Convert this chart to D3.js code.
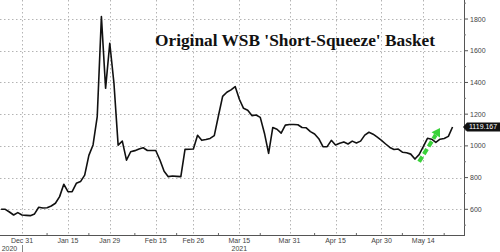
<!DOCTYPE html>
<html>
<head>
<meta charset="utf-8">
<script src="https://cdn.jsdelivr.net/npm/d3@7"></script>
<style>
  body { margin: 0; background: #fff; }
  svg { display: block; }
</style>
</head>
<body>
<svg id="chart" width="500" height="252"></svg>
<script>
// basket level, one value per weekday starting on startDate
const startDate = "2020-12-24"
const basket = [600, 600, 583, 564, 579, 564, 562, 560, 571, 613, 608, 610, 621, 638, 680,
  758, 711, 711, 764, 775, 816, 940, 1006, 1184, 1815, 1363, 1647, 1395, 1005, 1030,
  910, 963, 970, 980, 988, 971, 971, 971, 911, 840, 806, 810, 808, 806, 978,
  979, 980, 1067, 1035, 1040, 1047, 1065, 1190, 1312, 1338, 1353, 1374, 1294, 1237, 1225,
  1191, 1195, 1180, 1080, 953, 1116, 1105, 1080, 1131, 1135, 1135, 1133, 1116, 1114, 1090,
  1075, 1045, 995, 995, 1035, 1006, 1016, 1025, 1012, 1030, 1018, 1030, 1068, 1086, 1074,
  1055, 1035, 1012, 990, 977, 980, 960, 957, 948, 917, 945, 995, 1048, 1042, 1022,
  1042, 1047, 1060, 1119.167]
const lastLabel = "1119.167"
const tickDates = ["2020-12-31", "2021-01-15", "2021-01-29", "2021-02-15", "2021-02-26",
  "2021-03-15", "2021-03-31", "2021-04-15", "2021-04-30", "2021-05-14"]
const minorDates = ["2021-01-08", "2021-01-22", "2021-02-08", "2021-02-22", "2021-03-08",
  "2021-03-22", "2021-04-08", "2021-04-22", "2021-05-07", "2021-05-21"]
const years = ["2020", "2021"]
const yearDates = ["2020-12-28", "2021-03-15"]
const yTicks = [600, 800, 1000, 1200, 1400, 1600, 1800]
const yMinor = [500, 700, 900, 1100, 1300, 1500, 1700, 1900]
const arrowFrom = ["2021-05-13", 900]
const arrowTo = ["2021-05-20", 1112]
const title = "Original WSB 'Short-Squeeze' Basket"

const parse = d3.timeParse("%Y-%m-%d")
const fmt = d3.timeFormat("%b %d")
const t0 = parse(startDate)
// weekday index counted from startDate
const wd = d => d3.timeDay.range(t0, d).filter(x => x.getDay() % 6 !== 0).length
const series = []
{
  let d = t0
  basket.forEach(v => {
    while (d.getDay() % 6 === 0) d = d3.timeDay.offset(d, 1)
    series.push({ date: d, value: v })
    d = d3.timeDay.offset(d, 1)
  })
}

const W = 500, H = 252
const plot = { left: 0, right: 464, top: 0, bottom: 235 }
const svg = d3.select('#chart')

const x = d3.scaleLinear().domain([-0.26, 110.74]).range([plot.left, plot.right])
const xd = d => x(wd(typeof d === 'string' ? parse(d) : d))
const y = d3.scaleLinear().domain([438, 1920]).range([plot.bottom, plot.top])

// grid
svg.append('g')
  .selectAll('line.h')
  .data(yTicks)
  .join('line')
  .attr('x1', plot.left).attr('x2', plot.right)
  .attr('y1', d => Math.round(y(d)) + 0.5).attr('y2', d => Math.round(y(d)) + 0.5)
  .attr('stroke', '#b4b4b4').attr('stroke-width', 1).attr('stroke-dasharray', '1.5,2.5')
svg.append('g')
  .selectAll('line.v')
  .data(tickDates)
  .join('line')
  .attr('x1', d => Math.round(xd(d)) + 0.5).attr('x2', d => Math.round(xd(d)) + 0.5)
  .attr('y1', plot.top).attr('y2', plot.bottom)
  .attr('stroke', '#b4b4b4').attr('stroke-width', 1).attr('stroke-dasharray', '1.5,2.5')

// title
svg.append('text')
  .attr('x', 155).attr('y', 46)
  .attr('font-family', 'Liberation Serif, Times New Roman, serif')
  .attr('font-weight', 'bold').attr('font-size', 17)
  .attr('textLength', 280).attr('lengthAdjust', 'spacingAndGlyphs')
  .attr('fill', '#111')
  .text(title)

// right axis
const yAxis = svg.append('g').attr('transform', `translate(${plot.right},0)`)
yAxis.append('line').attr('x1', 0.5).attr('x2', 0.5).attr('y1', plot.top).attr('y2', plot.bottom)
  .attr('stroke', '#555')
yAxis.selectAll('line.maj').data(yTicks).join('line')
  .attr('x1', 0).attr('x2', 4).attr('y1', d => y(d)).attr('y2', d => y(d)).attr('stroke', '#555')
yAxis.selectAll('line.min').data(yMinor).join('line')
  .attr('x1', 0).attr('x2', 2).attr('y1', d => y(d)).attr('y2', d => y(d)).attr('stroke', '#777')
yAxis.selectAll('text').data(yTicks).join('text')
  .attr('x', 6).attr('y', d => y(d) + 2.5)
  .attr('font-family', 'Liberation Sans, Arial, sans-serif').attr('font-size', 7)
  .attr('fill', '#444')
  .text(d => d)

// bottom axis
const xAxis = svg.append('g')
xAxis.append('line').attr('x1', plot.left).attr('x2', plot.right + 1)
  .attr('y1', plot.bottom + 0.5).attr('y2', plot.bottom + 0.5).attr('stroke', '#555')
xAxis.selectAll('line.minor').data(minorDates).join('line')
  .attr('x1', d => xd(d)).attr('x2', d => xd(d))
  .attr('y1', plot.bottom).attr('y2', plot.bottom - 2).attr('stroke', '#666')
xAxis.selectAll('text.tick').data(tickDates).join('text')
  .attr('x', d => xd(d)).attr('y', 243)
  .attr('text-anchor', 'middle')
  .attr('font-family', 'Liberation Sans, Arial, sans-serif').attr('font-size', 7)
  .attr('fill', '#444')
  .text(d => fmt(parse(d)))
xAxis.selectAll('text.year').data(years).join('text')
  .attr('x', (d, i) => xd(yearDates[i])).attr('y', 251)
  .attr('text-anchor', 'middle')
  .attr('font-family', 'Liberation Sans, Arial, sans-serif').attr('font-size', 7)
  .attr('fill', '#444')
  .text(d => d)
xAxis.append('line')
  .attr('x1', Math.round(xd(tickDates[0])) + 0.5).attr('x2', Math.round(xd(tickDates[0])) + 0.5)
  .attr('y1', 245).attr('y2', 252).attr('stroke', '#888')

// basket line
const line = d3.line().x(d => x(wd(d.date))).y(d => y(d.value))
svg.append('path')
  .datum(series)
  .attr('d', line)
  .attr('fill', 'none').attr('stroke', '#111').attr('stroke-width', 1.6)
  .attr('stroke-linejoin', 'round')

// green dashed arrow
const ax1 = xd(arrowFrom[0]), ay1 = y(arrowFrom[1])
const ax2 = xd(arrowTo[0]), ay2 = y(arrowTo[1])
const ang = Math.atan2(ay2 - ay1, ax2 - ax1)
const headLen = 8
const bx = ax2 - headLen * Math.cos(ang), by = ay2 - headLen * Math.sin(ang)
svg.append('line')
  .attr('x1', ax1).attr('y1', ay1).attr('x2', bx).attr('y2', by)
  .attr('stroke', '#3ad23a').attr('stroke-width', 4).attr('stroke-dasharray', '6,3')
const perp = ang + Math.PI / 2
svg.append('path')
  .attr('d', d3.line()([
    [ax2, ay2],
    [bx + 5 * Math.cos(perp), by + 5 * Math.sin(perp)],
    [bx - 5 * Math.cos(perp), by - 5 * Math.sin(perp)]
  ]) + 'Z')
  .attr('fill', '#3ad23a')

// last value tag
const last = series[series.length - 1]
const ty = y(last.value)
svg.append('path')
  .attr('d', `M${plot.right - 1},${ty} L${plot.right + 3},${ty - 4.5} L${W},${ty - 4.5} L${W},${ty + 4.5} L${plot.right + 3},${ty + 4.5} Z`)
  .attr('fill', '#111')
svg.append('text')
  .attr('x', plot.right + 5).attr('y', ty + 2.5)
  .attr('font-family', 'Liberation Sans, Arial, sans-serif').attr('font-size', 7)
  .attr('fill', '#fff')
  .text(lastLabel)
</script>
</body>
</html>
